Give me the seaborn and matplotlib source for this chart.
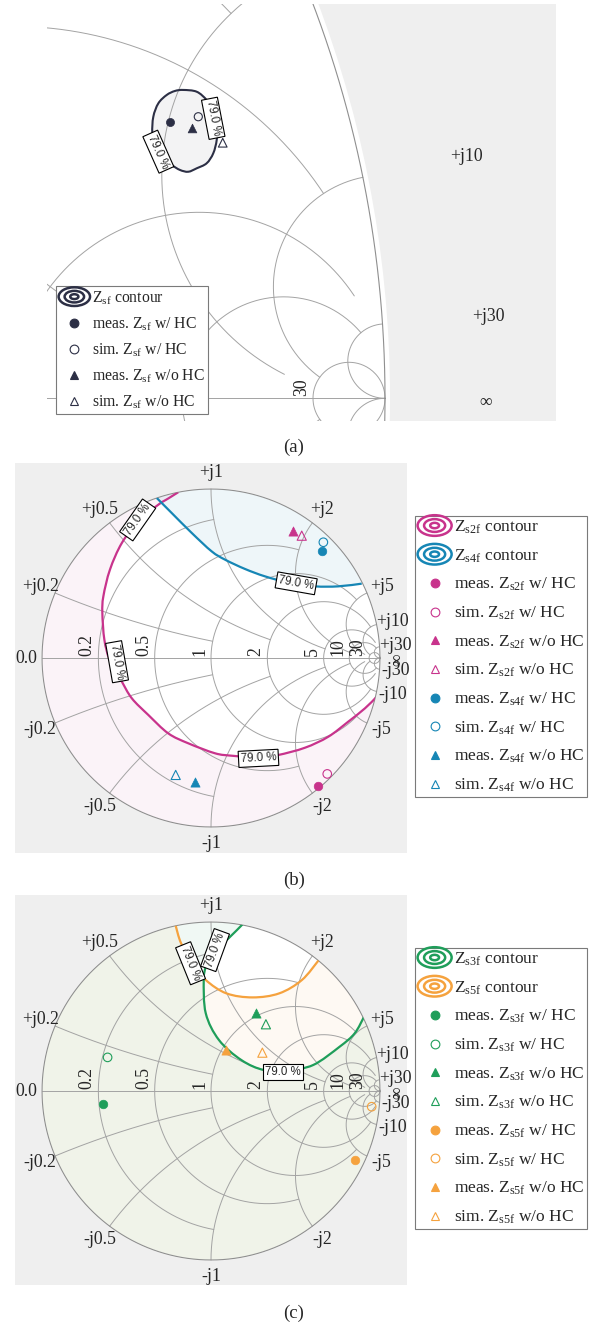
import numpy as np
import matplotlib
matplotlib.use("Agg")
import matplotlib.pyplot as plt
import seaborn as sns
from matplotlib.path import Path
from matplotlib.patches import PathPatch, Circle, Ellipse, Patch
from matplotlib.lines import Line2D
from matplotlib.legend_handler import HandlerBase

# ---------------------------------------------------------------- grid setup
GRID_VALUES = [0.2, 0.5, 1, 2, 5, 10, 30]
GRID_LIMITS = [1, 2, 5, 10, 20, 30, np.inf]      # extent of each grid circle/arc
GRID_TEXT = ["0.2", "0.5", "1", "2", "5", "10", "30"]
POINT_KINDS = ["meas. {} w/ HC", "sim. {} w/ HC", "meas. {} w/o HC", "sim. {} w/o HC"]
CONTOUR_LEVEL = "79.0 %"

# ---------------------------------------------------------------- (a) Z_sf
sf_contour_re = [0.8193, 0.8313, 0.8402, 0.8461, 0.8492, 0.8492, 0.8461, 0.8402, 0.8313,
                 0.8237, 0.8163, 0.8089, 0.7999, 0.7939, 0.7915, 0.7924, 0.7969, 0.8044, 0.8118]
sf_contour_im = [0.2763, 0.2747, 0.2673, 0.2583, 0.2434, 0.2315, 0.2195, 0.2106, 0.2061,
                 0.2030, 0.2046, 0.2091, 0.2165, 0.2254, 0.2375, 0.2523, 0.2643, 0.2718, 0.2754]
sf_re = [0.8073, 0.8327, 0.8268, 0.8546]
sf_im = [0.2473, 0.2523, 0.2425, 0.2290]

# ---------------------------------------------------------------- (b) Z_s2f / Z_s4f
s2f_contour_re = [-0.194, -0.253, -0.312, -0.430, -0.528, -0.598, -0.637, -0.643, -0.631, -0.600,
                  -0.533, -0.469, -0.371, -0.253, -0.134, 0.024, 0.120, 0.230, 0.300, 0.398,
                  0.556, 0.694, 0.812, 0.911, 0.975]
s2f_contour_im = [0.981, 0.944, 0.907, 0.809, 0.680, 0.523, 0.365, 0.266, 0.108, -0.010,
                  -0.130, -0.238, -0.337, -0.446, -0.505, -0.564, -0.578, -0.586, -0.585, -0.574,
                  -0.531, -0.466, -0.377, -0.298, -0.235]
s2f_closure_re = [1.25, 1.35, 0.90, 0.10, -0.22]      # continuation beyond |G| = 1
s2f_closure_im = [-0.30, 0.40, 1.15, 1.35, 1.12]
s4f_contour_re = [-0.321, -0.2325, -0.114, 0.004, 0.083, 0.201, 0.320, 0.467, 0.615, 0.753, 0.892]
s4f_contour_im = [0.947, 0.858, 0.740, 0.631, 0.582, 0.527, 0.483, 0.444, 0.424, 0.424, 0.440]
s4f_closure_re = [1.20, 1.00, 0.30, -0.45]
s4f_closure_im = [0.50, 1.10, 1.35, 1.15]
s2f_re = [0.631, 0.688, 0.483, 0.537]
s2f_im = [-0.757, -0.686, 0.753, 0.724]
s4f_re = [0.659, 0.665, -0.093, -0.209]
s4f_im = [0.631, 0.685, -0.732, -0.692]

# ---------------------------------------------------------------- (c) Z_s3f / Z_s5f
s3f_contour_re = [0.192, 0.100, 0.002, -0.031, -0.043, -0.031, 0.047, 0.180, 0.315, 0.460,
                  0.605, 0.761, 0.850, 0.906]
s3f_contour_im = [0.992, 0.900, 0.815, 0.734, 0.657, 0.460, 0.302, 0.183, 0.124, 0.125,
                  0.154, 0.262, 0.341, 0.440]
s3f_closure_re = [1.20, 1.00, 0.40]
s3f_closure_im = [0.50, 1.00, 1.30]
s5f_contour_re = [-0.210, -0.177, -0.109, -0.031, 0.091, 0.247, 0.404, 0.538, 0.638]
s5f_contour_im = [0.982, 0.874, 0.756, 0.657, 0.578, 0.554, 0.578, 0.657, 0.775]
s5f_closure_re = [0.75, 0.00, -0.40]
s5f_closure_im = [1.20, 1.35, 1.10]
s3f_re = [-0.641, -0.612, 0.265, 0.325]
s3f_im = [-0.077, 0.199, 0.463, 0.395]
s5f_re = [0.850, 0.951, 0.091, 0.304]
s5f_im = [-0.408, -0.093, 0.243, 0.227]

# ---------------------------------------------------------------- styling
NAVY, MAGENTA, BLUE, GREEN, ORANGE = "#2c2f45", "#c8338c", "#1686b5", "#1f9e5a", "#f5a23e"
GRID_C = "#a3a3a3"
BG = "#efefef"
FS = 12.8
SERIF = ["Liberation Serif", "DejaVu Serif"]

sns.set_style("white")
plt.rcParams["font.family"] = SERIF
plt.rcParams["mathtext.fontset"] = "custom"
plt.rcParams["mathtext.rm"] = "Liberation Serif"
plt.rcParams["mathtext.it"] = "Liberation Serif:italic"

W, H = 589, 1327
fig = plt.figure(figsize=(W / 100, H / 100), dpi=100)


def px_axes(x0, y0, x1, y1):
    return fig.add_axes([x0 / W, 1 - y1 / H, (x1 - x0) / W, (y1 - y0) / H])


def gamma(z):
    return (z - 1) / (z + 1)


def setup(ax, xlim, ylim):
    ax.set_facecolor(BG)
    ax.set_xlim(*xlim)
    ax.set_ylim(*ylim)
    for s in ax.spines.values():
        s.set_visible(False)
    ax.set_xticks([])
    ax.set_yticks([])
    ax.add_patch(Circle((0, 0), 1.0045, facecolor="white", edgecolor="none", zorder=0.5))
    return Circle((0, 0), 1.0, transform=ax.transData)


def finish(ax, xlim, ylim):
    ax.set_xlim(*xlim)
    ax.set_ylim(*ylim)
    ax.set_xlabel("")
    ax.set_ylabel("")


def draw_grid(ax):
    t = np.linspace(0, 2 * np.pi, 1441)
    ax.plot(np.cos(t), np.sin(t), color="#8f8f8f", lw=0.8, zorder=3)
    ax.plot([-1, 1], [0, 0], color=GRID_C, lw=0.7, zorder=2)
    for v, lim in zip(GRID_VALUES, GRID_LIMITS):
        th = np.linspace(-np.arctan(lim), np.arctan(lim), 3000)
        g = gamma(v + 1j * np.tan(th))
        ax.plot(g.real, g.imag, color=GRID_C, lw=0.7, zorder=2)
        ph = np.linspace(0, np.arctan(lim), 3000)
        for sgn in (1, -1):
            g = gamma(np.tan(ph) + 1j * sgn * v)
            ax.plot(g.real, g.imag, color=GRID_C, lw=0.7, zorder=2)


def draw_labels(ax, view, inf_pos, inf_rot, real_shown=GRID_TEXT, rad=1.095):
    """Axis annotations; with a zoomed view only those inside it are placed."""
    (x0, x1), (y0, y1) = view

    def inside(x, y):
        return x0 <= x <= x1 and y0 <= y <= y1

    for v, txt in zip(GRID_VALUES, GRID_TEXT):
        ang = np.angle(gamma(1j * v))
        for sgn, sign in ((1, "+"), (-1, "-")):
            x, y = rad * np.cos(ang), sgn * rad * np.sin(ang)
            if inside(x, y):
                ax.text(x, y, f"{sign}j{txt}", ha="center", va="center", fontsize=FS, zorder=7)
        xr = (v - 1) / (v + 1)
        if txt in real_shown and inside(xr, 0):
            ax.annotate(txt, (xr, 0), xytext=(-2, 1.5), textcoords="offset points",
                        rotation=90, ha="right", va="bottom", fontsize=FS, zorder=7)
    if inside(-1.03, 0):
        ax.text(-1.03, 0, "0.0", ha="right", va="center", fontsize=FS, zorder=7)
    ax.text(inf_pos[0], inf_pos[1], "\u221e", ha="center", va="center", fontsize=FS,
            rotation=inf_rot, zorder=7)


def smooth_segments(pts, closed):
    """Cubic Bezier (Catmull-Rom) segments passing through every contour point."""
    n = len(pts)
    ext = np.vstack([pts[-1:], pts, pts[:2]]) if closed else np.vstack([pts[:1], pts, pts[-1:]])
    verts, codes = [pts[0]], [Path.MOVETO]
    for i in range(n if closed else n - 1):
        p0, p1, p2, p3 = ext[i], ext[i + 1], ext[i + 2], ext[i + 3]
        verts += [p1 + (p2 - p0) / 6, p2 - (p3 - p1) / 6, p2]
        codes += [Path.CURVE4] * 3
    return verts, codes


def draw_contour(ax, disk, re, im, color, fill_alpha, outside, close_re=None, close_im=None,
                 lw=1.6):
    vis = np.column_stack([re, im])
    closed_curve = close_re is None
    clo = np.empty((0, 2)) if closed_curve else np.column_stack([close_re, close_im])
    loop = np.vstack([vis, clo])
    area = 0.5 * np.sum(loop[:, 0] * np.roll(loop[:, 1], -1) - np.roll(loop[:, 0], -1) * loop[:, 1])
    if outside and area > 0:          # hole must wind opposite to the outer ring
        vis, clo = vis[::-1], clo[::-1]
    v_verts, v_codes = smooth_segments(vis, closed_curve)
    f_verts = list(v_verts) + [p for p in clo] + [vis[0]]
    f_codes = list(v_codes) + [Path.LINETO] * len(clo) + [Path.CLOSEPOLY]
    if outside:
        t = np.linspace(0, 2 * np.pi, 240, endpoint=False)
        outer = np.column_stack([1.6 * np.cos(t), 1.6 * np.sin(t)])
        f_verts = list(outer) + [outer[0]] + f_verts
        f_codes = [Path.MOVETO] + [Path.LINETO] * (len(outer) - 1) + [Path.CLOSEPOLY] + f_codes
    fill = PathPatch(Path(np.array(f_verts), f_codes), facecolor=color, alpha=fill_alpha,
                     edgecolor="none", zorder=1)
    ax.add_patch(fill)
    fill.set_clip_path(disk)
    line = PathPatch(Path(np.array(v_verts), v_codes), fill=False, edgecolor=color, lw=lw,
                     zorder=4, joinstyle="round", capstyle="butt")
    ax.add_patch(line)
    line.set_clip_path(disk)


def contour_label(ax, x, y, rot):
    ax.text(x, y, CONTOUR_LEVEL, rotation=rot, rotation_mode="anchor", ha="center",
            va="center", fontsize=8.3, family=["Liberation Sans", "DejaVu Sans"], zorder=6,
            bbox=dict(boxstyle="square,pad=0.18", fc="white", ec="black", lw=0.8))


def draw_points(ax, re, im, color, s=38):
    styles = [("o", True), ("o", False), ("^", True), ("^", False)]
    for (m, filled), x, y in zip(styles, re, im):
        size = s * (1.15 if m == "^" else 1.0)
        if filled:
            sns.scatterplot(x=[x], y=[y], marker=m, s=size, color=color, edgecolor=color,
                            linewidth=0.5, ax=ax, zorder=5, legend=False)
        else:
            sns.scatterplot(x=[x], y=[y], marker=m, s=size, facecolor="none", edgecolor=color,
                            linewidth=0.8, ax=ax, zorder=5, legend=False)


class RingHandler(HandlerBase):
    def create_artists(self, legend, orig_handle, xdescent, ydescent, width, height,
                       fontsize, trans):
        col = orig_handle.get_edgecolor()
        cx, cy = width / 2 - xdescent, height / 2 - ydescent
        arts = []
        for f in (1.0, 0.62, 0.26):
            arts.append(Ellipse((cx, cy), width * f, height * 1.7 * f, fill=False,
                                edgecolor=col, lw=1.8, transform=trans))
        return arts


def make_legend(ax, names, colors, anchor, fs, spacing, hlen, bpad, tpad):
    handles, labels = [], []
    for nm, c in zip(names, colors):
        handles.append(Patch(facecolor="none", edgecolor=c))
        labels.append(f"Z$_\\mathregular{{{nm}}}$ contour")
    for nm, c in zip(names, colors):
        for kind, (m, filled) in zip(POINT_KINDS, [("o", True), ("o", False), ("^", True), ("^", False)]):
            handles.append(Line2D([], [], ls="none", marker=m, markersize=6.3,
                                  markerfacecolor=c if filled else "none",
                                  markeredgecolor=c, markeredgewidth=0.8))
            labels.append(kind.format(f"Z$_\\mathregular{{{nm}}}$"))
    leg = ax.legend(handles, labels, loc="upper left",
                    bbox_to_anchor=(anchor[0] / W, 1 - anchor[1] / H),
                    bbox_transform=fig.transFigure, borderaxespad=0, frameon=True,
                    fancybox=False, edgecolor="#7a7a7a", framealpha=1, fontsize=fs,
                    handlelength=hlen, handletextpad=tpad, borderpad=bpad,
                    labelspacing=spacing, handler_map={Patch: RingHandler()})
    leg.get_frame().set_linewidth(0.8)
    leg.set_zorder(10)
    return leg


# ---------------------------------------------------------------- panel (a)
sa = 1116.0
xlim_a = (1 + (47 - 385) / sa, 1 + (556 - 385) / sa)
ylim_a = ((398.3 - 421) / sa, (398.3 - 4) / sa)
ax_a = px_axes(47, 4, 556, 421)
disk_a = setup(ax_a, xlim_a, ylim_a)
draw_grid(ax_a)
draw_labels(ax_a, (xlim_a, ylim_a), inf_pos=(1.09, -0.004), inf_rot=0, real_shown=["30"])
draw_contour(ax_a, disk_a, sf_contour_re, sf_contour_im, NAVY, 0.055, outside=False, lw=1.5)
draw_points(ax_a, sf_re, sf_im, NAVY, s=34)
contour_label(ax_a, 0.7969, 0.2210, -66)
contour_label(ax_a, 0.8461, 0.2509, -79)
make_legend(ax_a, ["sf"], [NAVY], (55.5, 286), 11.3, 0.56, 2.0, 0.2, 0.15)
finish(ax_a, xlim_a, ylim_a)

# ---------------------------------------------------------------- panel (b)
lim_b = ((-1.160, 1.160), (-1.154, 1.154))
ax_b = px_axes(15, 463, 407, 853)
disk_b = setup(ax_b, *lim_b)
draw_grid(ax_b)
draw_labels(ax_b, ((-2, 2), (-2, 2)), inf_pos=(1.105, -0.01), inf_rot=90)
draw_contour(ax_b, disk_b, s2f_contour_re, s2f_contour_im, MAGENTA, 0.055, outside=True,
             close_re=s2f_closure_re, close_im=s2f_closure_im)
draw_contour(ax_b, disk_b, s4f_contour_re, s4f_contour_im, BLUE, 0.07, outside=False,
             close_re=s4f_closure_re, close_im=s4f_closure_im)
draw_points(ax_b, s2f_re, s2f_im, MAGENTA)
draw_points(ax_b, s4f_re, s4f_im, BLUE)
contour_label(ax_b, -0.434, 0.817, 55)
contour_label(ax_b, -0.556, -0.022, -80)
contour_label(ax_b, 0.504, 0.442, -10)
contour_label(ax_b, 0.281, -0.594, 3)
make_legend(ax_b, ["s2f", "s4f"], [MAGENTA, BLUE], (415, 516), 12.5, 0.65, 1.96, 0.15, 0.15)
finish(ax_b, *lim_b)

# ---------------------------------------------------------------- panel (c)
lim_c = ((-1.160, 1.160), (-1.148, 1.160))
ax_c = px_axes(15, 895, 407, 1285)
disk_c = setup(ax_c, *lim_c)
draw_grid(ax_c)
draw_labels(ax_c, ((-2, 2), (-2, 2)), inf_pos=(1.105, -0.01), inf_rot=90)
draw_contour(ax_c, disk_c, s5f_contour_re, s5f_contour_im, ORANGE, 0.06, outside=True,
             close_re=s5f_closure_re, close_im=s5f_closure_im)
draw_contour(ax_c, disk_c, s3f_contour_re, s3f_contour_im, GREEN, 0.062, outside=True,
             close_re=s3f_closure_re, close_im=s3f_closure_im)
draw_points(ax_c, s3f_re, s3f_im, GREEN)
draw_points(ax_c, s5f_re, s5f_im, ORANGE)
contour_label(ax_c, -0.121, 0.756, -68)
contour_label(ax_c, 0.024, 0.834, 70)
contour_label(ax_c, 0.426, 0.114, 0)
make_legend(ax_c, ["s3f", "s5f"], [GREEN, ORANGE], (415, 948), 12.5, 0.65, 1.96, 0.15, 0.15)
finish(ax_c, *lim_c)

for txt, y in (("(a)", 447), ("(b)", 880), ("(c)", 1313)):
    fig.text(294 / W, 1 - y / H, txt, ha="center", va="center", fontsize=13.5)

fig.savefig("out.png", dpi=100)
